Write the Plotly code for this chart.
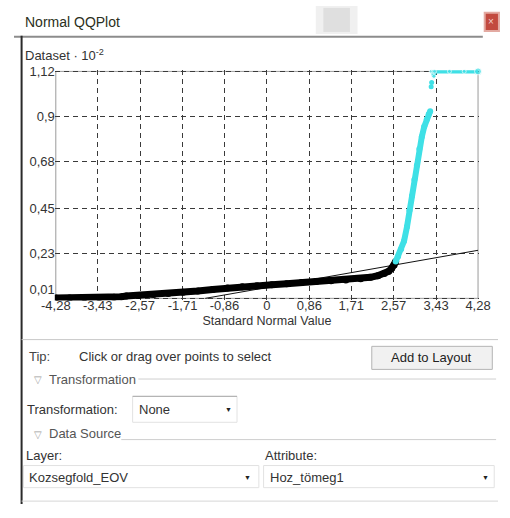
import plotly.graph_objects as go

W, H = 510, 518
FONT = "Liberation Sans"

# ---------------- data ----------------
x_ticks = [-4.28, -3.43, -2.57, -1.71, -0.86, 0, 0.86, 1.71, 2.57, 3.43, 4.28]
x_labels = ["-4,28", "-3,43", "-2,57", "-1,71", "-0,86", "0", "0,86", "1,71", "2,57", "3,43", "4,28"]
y_ticks = [0.01, 0.23, 0.45, 0.68, 0.9, 1.12]
y_labels = ["0,01<br> ", "0,23", "0,45", "0,68", "0,9", "1,12"]

black_x = [-4.28, -4.0, -3.7, -3.4, -3.1, -2.95, -2.85, -2.6, -2.3, -2.0, -1.7, -1.4,
           -1.1, -0.8, -0.5, -0.2, 0.1, 0.4, 0.7, 1.0, 1.3, 1.6, 1.9, 2.1, 2.25, 2.38,
           2.47, 2.53, 2.58, 2.61]
black_y = [0.012, 0.012, 0.013, 0.014, 0.016, 0.018, 0.021, 0.024, 0.029, 0.034, 0.040,
           0.046, 0.053, 0.061, 0.067, 0.072, 0.077, 0.082, 0.087, 0.092, 0.096, 0.100,
           0.106, 0.113, 0.121, 0.131, 0.143, 0.157, 0.173, 0.190]

sel_x = [2.61, 2.66, 2.72, 2.78, 2.84, 2.89, 2.94, 2.99, 3.04, 3.09, 3.14, 3.19, 3.24, 3.28, 3.31]
sel_y = [0.19, 0.215, 0.25, 0.29, 0.36, 0.44, 0.51, 0.59, 0.66, 0.74, 0.80, 0.85, 0.885, 0.91, 0.925]

dot_x = [3.33, 3.34]
dot_y = [1.045, 1.065]

top_x = [3.33, 3.37, 3.385, 3.40, 3.70, 4.00, 4.28]
top_y = [1.12, 1.12, 1.095, 1.12, 1.12, 1.12, 1.12]

ref_x = [-1.25, 4.28]
ref_y = [0.01, 0.245]

# ---------------- geometry helpers (window pixels -> paper) ----------------
def PX(x):
    return x / W

def PY(y):
    return 1 - y / H

annotations = []
shapes = []

def txt(x, y, s, size=13, color="#222222", xanchor="left", family=FONT):
    annotations.append(dict(x=PX(x), y=PY(y), xref="paper", yref="paper", text=s,
                            showarrow=False, xanchor=xanchor, yanchor="middle",
                            font=dict(size=size, color=color, family=family)))

def rect(x0, y0, x1, y1, fill=None, line="#aaaaaa", lw=1, layer="below"):
    shapes.append(dict(type="rect", xref="paper", yref="paper",
                       x0=PX(x0), x1=PX(x1), y0=PY(y1), y1=PY(y0),
                       fillcolor=fill if fill else "rgba(0,0,0,0)",
                       line=dict(color=line, width=lw), layer=layer))

def hline(x0, x1, y, color="#bbbbbb", lw=1):
    shapes.append(dict(type="line", xref="paper", yref="paper",
                       x0=PX(x0), x1=PX(x1), y0=PY(y), y1=PY(y),
                       line=dict(color=color, width=lw), layer="below"))

def vline(x, y0, y1, color="#333333", lw=2):
    shapes.append(dict(type="line", xref="paper", yref="paper",
                       x0=PX(x), x1=PX(x), y0=PY(y0), y1=PY(y1),
                       line=dict(color=color, width=lw), layer="below"))

# ---------------- plot area geometry ----------------
XR = [-4.30, 4.30]
X0P, X1P = 43, 490
YR = [0.0, 1.126]
PPU = 212.7
Y_TOP = 68 - (YR[1] - 1.12) * PPU
Y_BOT = 68 + (1.12 - YR[0]) * PPU

fig = go.Figure()

fig.add_trace(go.Scatter(x=ref_x, y=ref_y, mode="lines",
                         line=dict(color="#111111", width=1), hoverinfo="skip"))
fig.add_trace(go.Scatter(x=black_x, y=black_y, mode="lines+markers",
                         line=dict(color="black", width=7),
                         marker=dict(color="black", size=7), hoverinfo="skip"))
fig.add_trace(go.Scatter(x=sel_x, y=sel_y, mode="lines+markers",
                         line=dict(color="#3FE0E6", width=6),
                         marker=dict(color="#3FE0E6", size=6), hoverinfo="skip"))
fig.add_trace(go.Scatter(x=dot_x, y=dot_y, mode="markers",
                         marker=dict(color="#3FE0E6", size=5), hoverinfo="skip"))
fig.add_trace(go.Scatter(x=top_x, y=top_y, mode="lines+markers",
                         line=dict(color="#3FE0E6", width=4),
                         marker=dict(color="#3FE0E6", size=[4, 4, 4, 4, 4, 4, 7]),
                         hoverinfo="skip", cliponaxis=False))

# plot frame
shapes.append(dict(type="rect", xref="x", yref="y", x0=-4.28, x1=4.28, y0=0.01, y1=1.12,
                   line=dict(color="#9a9a9a", width=1), fillcolor="rgba(0,0,0,0)", layer="below"))

# ---------------- window chrome ----------------
txt(9, 17, "Normal QQPlot", size=14, color="#2b3020")
rect(318, 0, 362, 29, fill="rgba(205,205,205,0.30)", line="rgba(0,0,0,0)")
rect(326, 2, 354, 27, fill="rgba(185,185,185,0.30)", line="rgba(0,0,0,0)")
hline(0, 494, 32, color="#8c8c8c", lw=2)
rect(496, 7, 511, 26, fill="#c24a3f", line="#e3aaa2", lw=2)
txt(503, 16, "×", size=10, color="#f3d0cc", xanchor="center")
vline(8, 31, 518, color="#2a2a2a", lw=2)

# chart header
txt(10, 51, "Dataset · 10<sup>-2</sup>", size=13, color="#333333")

# lower panel
hline(8, 510, 347, color="#c8c8c8", lw=1)
txt(14, 365, "Tip:", size=13, color="#444444")
txt(66, 365, "Click or drag over points to select", size=13, color="#333333")
rect(377, 354, 504, 378, fill="#f1f1f1", line="#b5b5b5")
txt(440, 366, "Add to Layout", size=13, color="#222222", xanchor="center")

txt(19, 388, "▽", size=10, color="#a0a0a0")
txt(35, 388, "Transformation", size=13, color="#555555")
hline(131, 508, 388, color="#cfcfcf")
txt(12, 420, "Transformation:", size=13, color="#333333")
rect(125, 406, 235, 433, fill="white", line="#e2e2e2")
hline(125, 235, 406, color="#a8a8a8")
txt(130, 420, "None", size=13, color="#333333")
txt(226, 420, "▼", size=7, color="#222222", xanchor="center")

txt(19, 446, "▽", size=10, color="#a0a0a0")
txt(35, 445, "Data Source", size=13, color="#555555")
hline(113, 508, 451, color="#cfcfcf")
txt(11, 468, "Layer:", size=13, color="#333333")
txt(262, 468, "Attribute:", size=13, color="#333333")
rect(10, 478, 258, 501, fill="white", line="#e2e2e2")
txt(14, 490, "Kozsegfold_EOV", size=13, color="#333333")
txt(246, 490, "▼", size=7, color="#222222", xanchor="center")
rect(263, 478, 506, 501, fill="white", line="#e2e2e2")
txt(268, 490, "Hoz_tömeg1", size=13, color="#333333")
txt(497, 490, "▼", size=7, color="#222222", xanchor="center")
hline(8, 510, 515, color="#d6d6d6")

fig.update_layout(
    width=W, height=H,
    margin=dict(l=0, r=0, t=0, b=0),
    paper_bgcolor="#ffffff",
    plot_bgcolor="rgba(0,0,0,0)",
    showlegend=False,
    font=dict(family=FONT, size=12, color="#333333"),
    annotations=annotations,
    shapes=shapes,
    xaxis=dict(domain=[PX(X0P), PX(X1P)], range=XR, tickmode="array",
               tickvals=x_ticks, ticktext=x_labels, showgrid=True,
               gridcolor="#3a3a3a", griddash="5px,4px", gridwidth=1,
               zeroline=False, showline=False, ticks="", ticklabelstandoff=-4,
               tickfont=dict(size=13, color="#333333"),
               title=dict(text="Standard Normal Value", font=dict(size=12.5, color="#333333"),
                          standoff=3)),
    yaxis=dict(domain=[PY(Y_BOT), PY(Y_TOP)], range=YR, tickmode="array",
               tickvals=y_ticks, ticktext=y_labels, showgrid=True,
               gridcolor="#3a3a3a", griddash="5px,4px", gridwidth=1,
               zeroline=False, showline=False, ticks="", ticklabelstandoff=-1,
               tickfont=dict(size=13, color="#333333")),
)

fig.write_html("out.html", config={"displayModeBar": False, "staticPlot": True},
               post_script="document.body.style.margin='0';document.body.style.overflow='hidden';")
